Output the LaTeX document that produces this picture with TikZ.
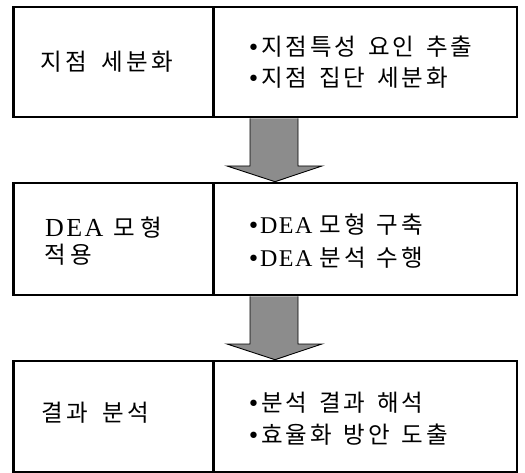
\documentclass[tikz,border=0pt]{standalone}
\usepackage{fontspec}
\setmainfont{Noto Sans CJK KR}
\newfontfamily\latin{Liberation Serif}
\newfontfamily\bulfont{DejaVu Sans}
\newfontfamily\latinsp{Liberation Serif}[LetterSpace=6]
\newfontfamily\latinwide{Liberation Serif}[LetterSpace=9]
\usetikzlibrary{calc}
\makeatletter
\def\wgmark{\wg}
\newcommand\wg{}
% #1 pitch, #2 extra word gap, #3 characters (\wg marks a word gap)
\newcommand\spaced[3]{\@tfor\sp@c:=#3\do{\ifx\sp@c\wgmark\hspace*{#2}\else\makebox[#1][l]{\sp@c}\fi}}
\makeatother
\newcommand\bulmark{{\bulfont\fontsize{22}{26}\selectfont •}}
\newcommand\bul{\bulmark\hspace{1pt}}
\begin{document}
\begin{tikzpicture}[x=1pt,y=-1pt,
  boxl/.style={draw, line width=2.6pt, rectangle, minimum width=200pt, inner sep=0pt, outer sep=0pt},
  boxr/.style={draw, line width=2.6pt, rectangle, minimum width=303.5pt, inner sep=0pt, outer sep=0pt},
  txt/.style={anchor=base west, inner sep=0pt, font=\fontsize{23.5}{27}\selectfont},
  blockarrow/.style={fill=black!45, draw=black, line width=0.9pt, line join=miter}]
\useasboundingbox (0,0) rectangle (525,473);
% row 1
\node[boxl, minimum height=110pt] (l1) at (113.5,62) {};
\node[boxr, minimum height=110pt] (r1) at (365.25,62) {};
\node[txt] (t1) at (40,71) {\spaced{25pt}{11pt}{지점\wg 세분화}};
\node[txt] (t1a) at (247,56) {\bul\spaced{24.5pt}{9pt}{지점특성\wg 요인\wg 추출}};
\node[txt] (t1b) at (247,87) {\bul\spaced{24.5pt}{9pt}{지점\wg 집단\wg 세분화}};
% row 2
\node[boxl, minimum height=112pt] (l2) at (113.5,239) {};
\node[boxr, minimum height=112pt] (r2) at (365.25,239) {};
\node[txt] (t2a) at (45,237) {{\latinwide\fontsize{26}{30}\selectfont DEA}\hspace{10pt}\spaced{27pt}{0pt}{모형}};
\node[txt] (t2b) at (44,264) {\spaced{26.5pt}{0pt}{적용}};
\node[txt] (t2c) at (247,234) {\bulmark{\latinsp\fontsize{24}{28}\selectfont DEA}\hspace{7pt}\spaced{25pt}{7pt}{모형\wg 구축}};
\node[txt] (t2d) at (247,266) {\bulmark{\latinsp\fontsize{24}{28}\selectfont DEA}\hspace{7pt}\spaced{25pt}{7pt}{분석\wg 수행}};
% row 3
\node[boxl, minimum height=111pt] (l3) at (113.5,416.5) {};
\node[boxr, minimum height=111pt] (r3) at (365.25,416.5) {};
\node[txt] (t3) at (41,421) {\spaced{25pt}{11pt}{결과\wg 분석}};
\node[txt] (t3a) at (247,411) {\bul\spaced{24.5pt}{9pt}{분석\wg 결과\wg 해석}};
\node[txt] (t3b) at (247,443) {\bul\spaced{24.5pt}{9pt}{효율화\wg 방안\wg 도출}};
% arrows
\foreach \a/\b in {r1/r2, r2/r3}{
  \path let \p1=(\a.south west), \p2=(\b.north west) in
    coordinate (s) at (274,\y1) coordinate (e) at (274,\y2);
  \draw[blockarrow] ($(s)+(-24,1.3)$) -- ($(e)+(-24,-17)$) -- ($(e)+(-47,-17)$) -- ($(e)+(1,-1.3)$)
    -- ($(e)+(48,-17)$) -- ($(e)+(24,-17)$) -- ($(s)+(24,1.3)$);
}
\end{tikzpicture}
\end{document}
